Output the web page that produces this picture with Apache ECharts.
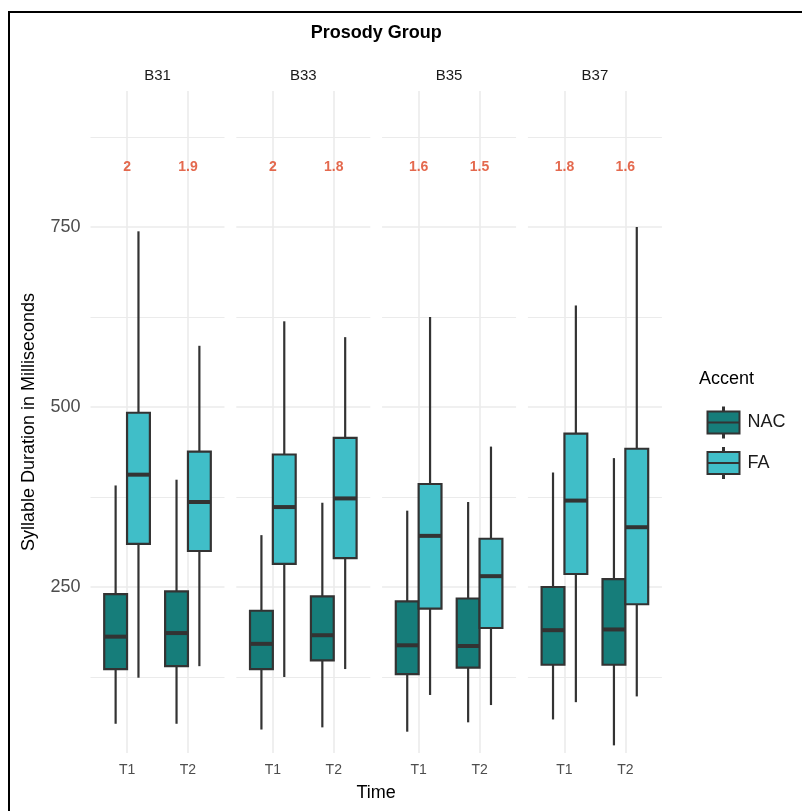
<!DOCTYPE html>
<html>
<head>
<meta charset="utf-8">
<script src="https://cdn.jsdelivr.net/npm/echarts@6/dist/echarts.min.js"></script>
<style>html,body{margin:0;padding:0;background:#fff;}#chart{width:802px;height:811px;}</style>
</head>
<body>
<div id="chart"></div>
<script>
// ---- data ----
const facets = ['B31', 'B33', 'B35', 'B37'];
const times = ['T1', 'T2'];
const accents = ['NAC', 'FA'];
// five-number summaries [lower whisker, Q1, median, Q3, upper whisker], one per facet
const nacT1 = [[60, 136, 181, 240, 391], [52, 136, 171, 217, 322], [49, 129, 169, 230, 356], [66, 142, 190, 250, 409]];
const nacT2 = [[60, 140, 186, 244, 399], [55, 148, 183, 237, 367], [62, 138, 168, 234, 368], [30, 142, 191, 261, 429]];
const faT1 = [[124, 310, 406, 492, 744], [125, 282, 361, 434, 619], [100, 220, 321, 393, 625], [90, 268, 370, 463, 641]];
const faT2 = [[140, 300, 368, 438, 585], [136, 290, 373, 457, 597], [86, 193, 265, 317, 445], [98, 226, 333, 442, 750]];
const ratioT1 = [2, 2, 1.6, 1.8];
const ratioT2 = [1.9, 1.8, 1.5, 1.6];
const yTicks = [250, 500, 750];
const yMinorTicks = [125, 375, 625, 875];
const labelY = 833;

// ---- layout / style ----
const PANEL_LEFT0 = 90.5, PANEL_STEP = 145.8, PANEL_W = 134, PANEL_TOP = 91, PANEL_H = 662;
const Y_MIN = 19.4, Y_MAX = 938.9;
const X_MIN = 0.4, X_MAX = 2.6;
const DODGE = 0.1875, BOX_W = 0.375;
const COLORS = { NAC: '#167D7A', FA: '#40BEC8' };
const EDGE = '#333333';
const GRID_COLOR = '#EBEBEB';
const FONT = 'Liberation Sans, Arial, Helvetica, sans-serif';

const statsByAccent = { NAC: [nacT1, nacT2], FA: [faT1, faT2] };

function renderBox(params, api) {
  const x = api.value(0);
  const lo = api.coord([x, api.value(1)]);
  const q1 = api.coord([x, api.value(2)]);
  const med = api.coord([x, api.value(3)]);
  const q3 = api.coord([x, api.value(4)]);
  const hi = api.coord([x, api.value(5)]);
  const halfW = api.size([BOX_W, 0])[0] / 2;
  const lineStyle = { stroke: EDGE, lineWidth: 2.2 };
  return {
    type: 'group',
    children: [
      { type: 'line', shape: { x1: lo[0], y1: lo[1], x2: q1[0], y2: q1[1] }, style: lineStyle },
      { type: 'line', shape: { x1: q3[0], y1: q3[1], x2: hi[0], y2: hi[1] }, style: lineStyle },
      { type: 'rect', shape: { x: q3[0] - halfW, y: q3[1], width: 2 * halfW, height: q1[1] - q3[1] },
        style: { fill: api.visual('color'), stroke: EDGE, lineWidth: 2.2 } },
      { type: 'line', shape: { x1: med[0] - halfW, y1: med[1], x2: med[0] + halfW, y2: med[1] },
        style: { stroke: EDGE, lineWidth: 4 } }
    ]
  };
}

const grids = [], xAxes = [], yAxes = [], series = [], titles = [];

titles.push({ text: 'Prosody Group', left: PANEL_LEFT0 + (3 * PANEL_STEP + PANEL_W) / 2, top: 24, textAlign: 'center', padding: 0,
  textStyle: { fontSize: 18, fontWeight: 'bold', color: '#000', fontFamily: FONT } });
titles.push({ text: 'Time', left: PANEL_LEFT0 + (3 * PANEL_STEP + PANEL_W) / 2, top: 784, textAlign: 'center', padding: 0,
  textStyle: { fontSize: 18, fontWeight: 'normal', color: '#000', fontFamily: FONT } });
titles.push({ text: 'Accent', left: 699, top: 370, padding: 0,
  textStyle: { fontSize: 18, fontWeight: 'normal', color: '#000', fontFamily: FONT } });

facets.forEach(function (facet, i) {
  const left = PANEL_LEFT0 + i * PANEL_STEP;
  grids.push({ left: left, top: PANEL_TOP, width: PANEL_W, height: PANEL_H, containLabel: false });
  titles.push({ text: facet, left: left + PANEL_W / 2, top: 68, textAlign: 'center', padding: 0,
    textStyle: { fontSize: 15, fontWeight: 'normal', color: '#1A1A1A', fontFamily: FONT } });
  xAxes.push({
    gridIndex: i, type: 'value', min: X_MIN, max: X_MAX,
    axisLine: { show: false },
    axisTick: { show: false, customValues: [1, 2] },
    axisLabel: { show: true, customValues: [1, 2], margin: 10, fontSize: 14, color: '#4D4D4D', fontFamily: FONT,
      formatter: function (v) { return times[Math.round(v) - 1]; } },
    splitLine: { show: true, lineStyle: { color: GRID_COLOR, width: 1.6 } }
  });
  // major y axis (data)
  yAxes.push({
    gridIndex: i, type: 'value', min: Y_MIN, max: Y_MAX, position: 'left',
    axisLine: { show: false },
    axisTick: { show: false, customValues: yTicks },
    axisLabel: { show: i === 0, customValues: yTicks, margin: 10, fontSize: 18, color: '#4D4D4D', fontFamily: FONT },
    splitLine: { show: true, lineStyle: { color: GRID_COLOR, width: 1.6 } },
    name: i === 0 ? 'Syllable Duration in Milliseconds' : '',
    nameLocation: 'middle', nameGap: 52,
    nameTextStyle: { fontSize: 18, color: '#000', fontFamily: FONT }
  });
  // minor grid axis
  yAxes.push({
    gridIndex: i, type: 'value', min: Y_MIN, max: Y_MAX, position: 'right',
    axisLine: { show: false },
    axisTick: { show: false, customValues: yMinorTicks },
    axisLabel: { show: false, customValues: yMinorTicks },
    splitLine: { show: true, lineStyle: { color: GRID_COLOR, width: 1 } }
  });

  accents.forEach(function (acc, g) {
    const offset = g === 0 ? -DODGE : DODGE;
    const data = times.map(function (t, ti) {
      const s = statsByAccent[acc][ti][i];
      return [ti + 1 + offset].concat(s);
    });
    series.push({
      type: 'custom', name: acc, xAxisIndex: i, yAxisIndex: 2 * i,
      renderItem: renderBox,
      dimensions: ['x', 'min', 'q1', 'median', 'q3', 'max'],
      encode: { x: 0, y: [1, 2, 3, 4, 5] },
      itemStyle: { color: COLORS[acc], borderColor: EDGE, borderWidth: 1.5 },
      data: data, z: 3, silent: true
    });
  });

  series.push({
    type: 'scatter', name: 'ratio-' + facet, xAxisIndex: i, yAxisIndex: 2 * i,
    symbolSize: 1, itemStyle: { color: 'rgba(0,0,0,0)' }, silent: true, z: 4,
    data: [[1, labelY, ratioT1[i]], [2, labelY, ratioT2[i]]],
    label: { show: true, position: 'inside', fontSize: 14, fontWeight: 'bold', color: '#DD4422', fontFamily: FONT,
      formatter: function (p) { return String(p.value[2]); } }
  });
});

const option = {
  backgroundColor: '#fff',
  animation: false,
  textStyle: { fontFamily: FONT },
  title: titles,
  grid: grids,
  xAxis: xAxes,
  yAxis: yAxes,
  legend: {
    data: accents, orient: 'vertical', left: 701.5, top: 401.5,
    itemWidth: 32, itemHeight: 30, itemGap: 8.5, selectedMode: false,
    icon: 'path://M15.5,0 L16.5,0 L16.5,4 L15.5,4 Z M0,4 L32,4 L32,15 L0,15 Z M0,15 L32,15 L32,26 L0,26 Z M15.5,26 L16.5,26 L16.5,30 L15.5,30 Z',
    itemStyle: { borderColor: EDGE, borderWidth: 2 },
    textStyle: { fontSize: 18, color: '#1A1A1A', fontFamily: FONT, padding: [0, 0, 0, 3] }
  },
  graphic: [{ type: 'rect', shape: { x: 9, y: 12, width: 800, height: 806 }, style: { fill: 'none', stroke: '#000', lineWidth: 2 }, silent: true }],
  series: series
};

const chart = echarts.init(document.getElementById('chart'), null, { renderer: 'canvas' });
chart.setOption(option);
</script>
</body>
</html>
